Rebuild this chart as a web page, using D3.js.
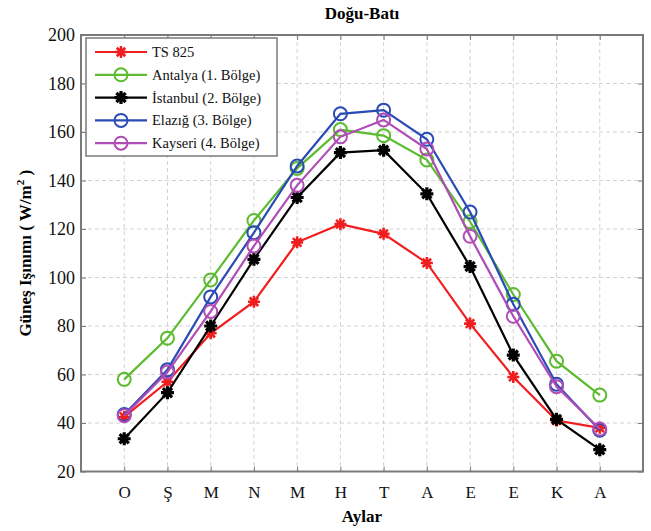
<!DOCTYPE html>
<html>
<head>
<meta charset="utf-8">
<script src="https://cdn.jsdelivr.net/npm/d3@7"></script>
<style>
  html, body { margin: 0; padding: 0; background: #fff; }
  svg { display: block; font-family: "Liberation Serif", "Times New Roman", serif; }
</style>
</head>
<body>
<svg id="chart" width="651" height="531"></svg>
<script>
const months = ["O", "Ş", "M", "N", "M", "H", "T", "A", "E", "E", "K", "A"];
const yTicks = [20, 40, 60, 80, 100, 120, 140, 160, 180, 200];
const seriesNames = ["TS 825", "Antalya (1. Bölge)", "İstanbul (2. Bölge)", "Elazığ (3. Bölge)", "Kayseri (4. Bölge)"];
const ts825   = [42.5, 57, 77, 90, 114.5, 122, 118, 106, 81, 59, 41, 38];
const antalya = [58, 75, 99, 123.5, 145, 161, 158.5, 148.5, 123, 93, 65.5, 51.5];
const istanbul = [33.5, 52.5, 80, 107.5, 133, 151.5, 152.5, 134.5, 104.5, 68, 41.5, 29];
const elazig  = [43.5, 62, 92, 118.5, 146, 167.5, 169, 157, 127, 89, 56, 37];
const kayseri = [43, 61, 86, 113, 138, 158, 165, 153, 117, 84, 55, 37.5];
const colors = ["#f01e1e", "#5cbb30", "#000000", "#2a4bb5", "#b04cb6"];
const markers = ["star", "circle", "starBold", "circle", "circle"];

const allSeries = [ts825, antalya, istanbul, elazig, kayseri];

const svg = d3.select("#chart");
const L = 81, R = 643, T = 35, B = 471.5;
const x = d3.scaleLinear().domain([0, 13]).range([L, R]);
const y = d3.scaleLinear().domain([20, 200]).range([B, T]);
const idx = d3.range(1, 13);

// grid
const grid = svg.append("g").attr("stroke", "#d2d2d2").attr("stroke-dasharray", "4,3").attr("stroke-width", 1);
grid.selectAll("line.v").data(idx).enter().append("line")
  .attr("x1", d => x(d)).attr("x2", d => x(d)).attr("y1", T).attr("y2", B);
grid.selectAll("line.h").data(yTicks.slice(1, -1)).enter().append("line")
  .attr("x1", L).attr("x2", R).attr("y1", d => y(d)).attr("y2", d => y(d));

// axes
const axisColor = "#7a7a7a";
function styleAxis(size) {
  return g => {
    g.select(".domain").remove();
    g.selectAll(".tick line").attr("stroke", axisColor).attr("stroke-width", 1);
    g.selectAll("text").attr("fill", "#111").style("font-family", "Liberation Serif").style("font-size", size);
  };
}
svg.append("g").attr("transform", `translate(0,${B})`)
  .call(d3.axisBottom(x).tickValues(idx).tickSize(-5).tickPadding(14).tickFormat(d => months[d - 1]))
  .call(styleAxis("17px"));
svg.append("g").attr("transform", `translate(0,${T})`)
  .call(d3.axisTop(x).tickValues(idx).tickSize(-5).tickFormat(""))
  .call(styleAxis("17px"));
svg.append("g").attr("transform", `translate(${L},0)`)
  .call(d3.axisLeft(y).tickValues(yTicks).tickSize(-5).tickPadding(6))
  .call(styleAxis("18px"));
svg.append("g").attr("transform", `translate(${R},0)`)
  .call(d3.axisRight(y).tickValues(yTicks).tickSize(-5).tickFormat(""))
  .call(styleAxis("18px"));

svg.append("rect").attr("x", L).attr("y", T).attr("width", R - L).attr("height", B - T)
  .attr("fill", "none").attr("stroke", axisColor).attr("stroke-width", 2);

// marker drawing
function drawMarker(g, type, color, cx, cy) {
  if (type === "circle") {
    g.append("circle").attr("cx", cx).attr("cy", cy).attr("r", 6.5)
      .attr("fill", "none").attr("stroke", color).attr("stroke-width", 2);
  } else {
    const r = type === "starBold" ? 6.5 : 6;
    const sw = type === "starBold" ? 3.2 : 2.6;
    const d = [];
    for (let k = 0; k < 4; k++) {
      const a = k * Math.PI / 4;
      d.push(`M${cx - r * Math.cos(a)},${cy - r * Math.sin(a)}L${cx + r * Math.cos(a)},${cy + r * Math.sin(a)}`);
    }
    g.append("path").attr("d", d.join("")).attr("stroke", color).attr("stroke-width", sw).attr("fill", "none");
    g.append("circle").attr("cx", cx).attr("cy", cy).attr("r", type === "starBold" ? 4 : 3).attr("fill", color);
  }
}

// lines
const line = d3.line().x((d, i) => x(i + 1)).y(d => y(d));
allSeries.forEach((s, si) => {
  const g = svg.append("g");
  g.append("path").datum(s).attr("d", line).attr("fill", "none")
    .attr("stroke", colors[si]).attr("stroke-width", 2.2);
  s.forEach((v, i) => drawMarker(g, markers[si], colors[si], x(i + 1), y(v)));
});

// legend
const lg = svg.append("g");
lg.append("rect").attr("x", 86).attr("y", 38).attr("width", 191).attr("height", 118)
  .attr("fill", "#fff").attr("stroke", axisColor).attr("stroke-width", 1.5);
const rowY = [52, 74.8, 97.6, 120.4, 143.2];
seriesNames.forEach((name, si) => {
  const gy = rowY[si];
  lg.append("line").attr("x1", 95).attr("x2", 147).attr("y1", gy).attr("y2", gy)
    .attr("stroke", colors[si]).attr("stroke-width", 2.2);
  drawMarker(lg, markers[si], colors[si], 121, gy);
  lg.append("text").attr("x", 152).attr("y", gy + 5).text(name)
    .style("font-size", "14.5px").attr("fill", "#111");
});

// title & labels
svg.append("text").attr("x", (L + R) / 2).attr("y", 19).attr("text-anchor", "middle")
  .style("font-size", "17px").style("font-weight", "bold").text("Doğu-Batı");
svg.append("text").attr("x", (L + R) / 2).attr("y", 522).attr("text-anchor", "middle")
  .style("font-size", "17px").style("font-weight", "bold").text("Aylar");
const yl = svg.append("text").attr("transform", `translate(31,${(T + B) / 2}) rotate(-90)`)
  .attr("text-anchor", "middle").style("font-size", "17px").style("font-weight", "bold");
yl.append("tspan").text("Güneş Işınımı ( W/m");
yl.append("tspan").attr("dy", -7).style("font-size", "11px").text("2");
yl.append("tspan").attr("dy", 7).text(" )");
</script>
</body>
</html>
